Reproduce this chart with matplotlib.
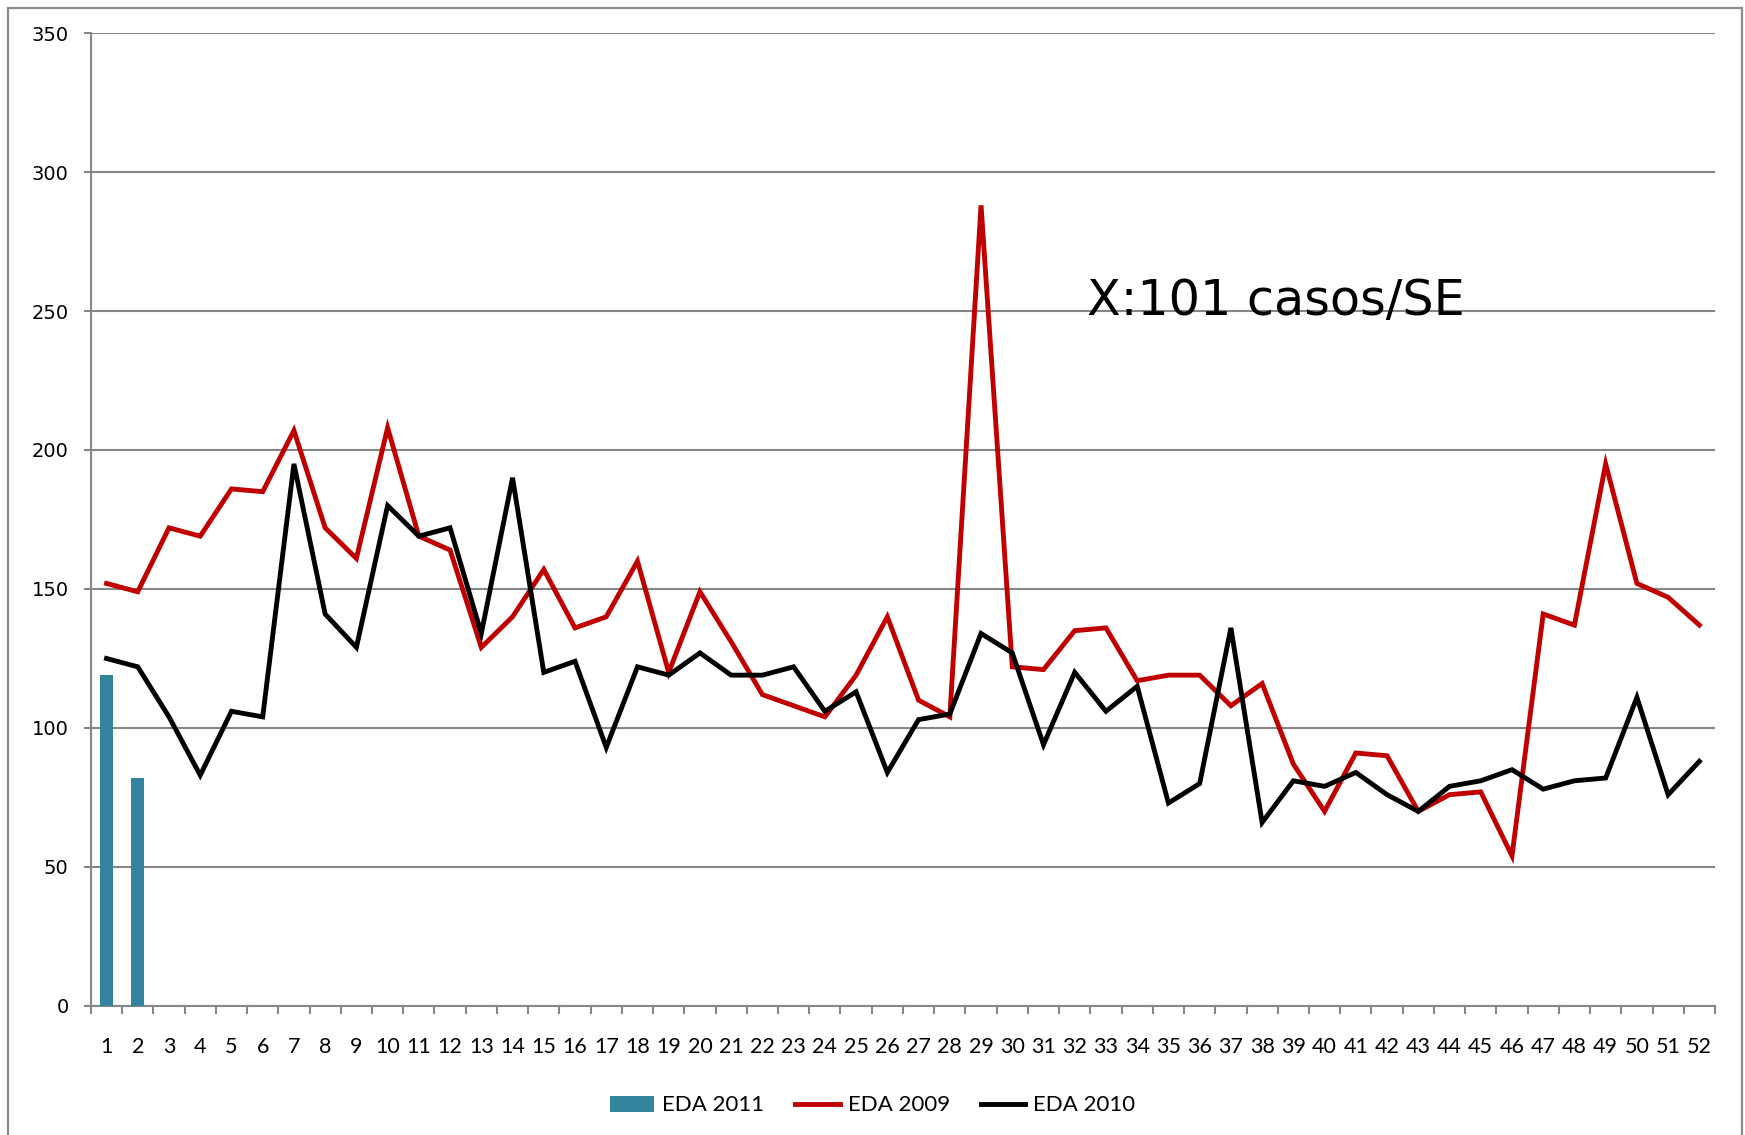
"""
EDA por semana epidemiológica: 2009, 2010 y 2011
"""

import numpy as np
import matplotlib.pyplot as plt
from matplotlib.patches import Rectangle

plt.rcParams["font.family"] = ["Lato", "DejaVu Sans"]

weeks = list(range(1, 53))

eda_2011 = [119, 82]

eda_2009 = [152, 149, 172, 169, 186, 185, 207, 172, 161, 208,
            169, 164, 129, 140, 157, 136, 140, 160, 120, 149,
            131, 112, 108, 104, 119, 140, 110, 104, 288, 122,
            121, 135, 136, 117, 119, 119, 108, 116, 87, 70,
            91, 90, 70, 76, 77, 54, 141, 137, 195, 152,
            147, 137]

eda_2010 = [125, 122, 104, 83, 106, 104, 195, 141, 129, 180,
            169, 172, 134, 190, 120, 124, 93, 122, 119, 127,
            119, 119, 122, 106, 113, 84, 103, 105, 134, 127,
            94, 120, 106, 115, 73, 80, 136, 66, 81, 79,
            84, 76, 70, 79, 81, 85, 78, 81, 82, 111,
            76, 88]

note = "X:101 casos/SE"

GRID = "#868686"


def eda_chart():
    fig = plt.figure(figsize=(17.45, 11.35), dpi=100)
    ax = fig.add_axes([0.0521, 0.1137, 0.9307, 0.8572])

    # marco exterior del gráfico
    fig.patches.append(Rectangle((8 / 1745, -0.02), 1734 / 1745, 1.02 - 8 / 1135,
                                 transform=fig.transFigure, fill=False,
                                 edgecolor="#8c8c8c", linewidth=1.6))

    bars = ax.bar(weeks[:len(eda_2011)], eda_2011, width=0.42, color="#31849B",
                  label="EDA 2011", zorder=3)
    l09, = ax.plot(weeks, eda_2009, color="#C00000", linewidth=3.5,
                   solid_joinstyle="miter", label="EDA 2009", zorder=4)
    l10, = ax.plot(weeks, eda_2010, color="black", linewidth=3.5,
                   solid_joinstyle="miter", label="EDA 2010", zorder=5)

    ax.set_xlim(0.5, 52.5)
    ax.set_ylim(0, 350)
    ax.set_yticks(np.arange(0, 351, 50))
    ax.yaxis.grid(True, color=GRID, linewidth=1.5)
    ax.set_axisbelow(True)

    ax.set_xticks(weeks)
    ax.set_xticklabels([str(w) for w in weeks])
    ax.set_xticks(np.arange(0.5, 53, 1), minor=True)
    ax.tick_params(axis="x", which="major", length=0, pad=22, labelsize=15.5)
    ax.tick_params(axis="x", which="minor", length=6, width=1.5,
                   color=GRID, direction="out")
    ax.tick_params(axis="y", length=5, width=1.5, color=GRID, pad=11)
    for lab in ax.get_yticklabels():
        lab.set_fontfamily("DejaVu Sans")
        lab.set_fontsize(14)

    for side in ("top", "right"):
        ax.spines[side].set_visible(False)
    for side in ("left", "bottom"):
        ax.spines[side].set_color(GRID)
        ax.spines[side].set_linewidth(1.5)

    ax.text(32.4, 248.5, note, fontsize=35.5, family="DejaVu Sans",
            va="baseline", ha="left", zorder=6)

    fig.legend([bars, l09, l10], ["EDA 2011", "EDA 2009", "EDA 2010"],
               loc="center", bbox_to_anchor=(0.5, 0.026), ncol=3,
               frameon=False, fontsize=16, handlelength=2.0,
               handleheight=0.75, columnspacing=1.4, handletextpad=0.35)

    fig.savefig("out.png", dpi=100)


if __name__ == "__main__":
    eda_chart()
